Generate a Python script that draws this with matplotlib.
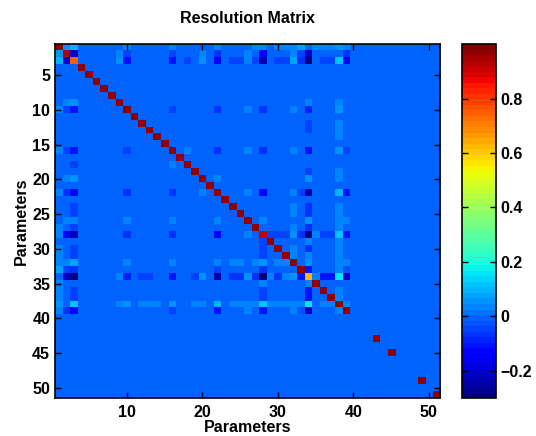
import numpy as np
import matplotlib
matplotlib.use("Agg")
import matplotlib.pyplot as plt

plt.rcParams['font.family'] = ['Liberation Sans', 'DejaVu Sans']
plt.rcParams['font.weight'] = 'bold'

n_par = 51

# diagonal of the resolution matrix (parameter index, value)
diag_idx = list(range(1, 40)) + [43, 45, 49, 51]
diag_val = [0.97, 0.93, 0.75] + [0.97] * 24 + [0.9] + [0.97] * 5 + [0.62] + [0.97] * 5 + [0.97] * 4

# off-diagonal entries (row, col, value), matrix is symmetric
off_rows = [1, 1, 1, 1, 1, 1, 1, 1, 1, 1, 1, 1, 1, 1, 1, 1,
            2, 2, 2, 2, 2, 2, 2, 2, 2, 2, 2, 2,
            3, 3, 3, 3, 3, 3, 3, 3, 3, 3, 3, 3, 3, 3, 3, 3, 3, 3, 3, 3,
            10, 10, 10, 10, 10, 10, 10,
            16, 16, 16, 16, 16, 16, 16, 16,
            22, 22, 22, 22, 22, 22, 22, 22,
            28, 28, 28, 28, 28, 28, 28, 28, 28, 28, 28, 28,
            34, 34, 34, 34, 34, 34, 34, 34, 34, 34, 34, 34, 34, 34, 34, 34, 34,
            38, 38, 38, 38, 38, 38, 38, 38, 38, 38, 38,
            9, 20, 20, 26, 26, 32, 32, 33, 33, 13, 12, 14, 19, 24, 25, 27, 29, 30, 31, 24, 25, 27, 29]
off_cols = [2, 3, 10, 16, 22, 27, 28, 30, 31, 32, 33, 35, 36, 37, 38, 39,
            3, 9, 10, 16, 20, 22, 26, 28, 32, 33, 34, 39,
            9, 10, 16, 18, 20, 22, 24, 25, 26, 27, 28, 30, 31, 32, 33, 34, 36, 37, 38, 39,
            16, 22, 26, 28, 32, 34, 38,
            22, 26, 28, 32, 34, 38, 39, 18,
            26, 28, 32, 33, 34, 38, 39, 20,
            29, 30, 31, 32, 33, 34, 35, 36, 37, 38, 39, 26,
            9, 19, 20, 24, 25, 26, 27, 29, 30, 31, 32, 33, 35, 36, 37, 38, 39,
            24, 25, 27, 30, 31, 36, 37, 39, 12, 13, 19,
            38, 34, 38, 38, 39, 38, 39, 38, 39, 34, 34, 38, 38, 32, 32, 32, 34, 32, 32, 38, 38, 38, 38]
off_vals = [0.05, 0.1, 0.03, 0.04, 0.04, 0.04, 0.03, 0.03, 0.03, 0.04, 0.08, 0.04, 0.03, 0.03, 0.05, 0.03,
            -0.2, 0.03, -0.05, -0.05, 0.03, -0.07, 0.03, -0.12, 0.03, -0.04, -0.2, -0.06,
            0.05, -0.1, -0.1, -0.04, 0.05, -0.15, -0.04, -0.04, 0.04, -0.05, -0.22, -0.05, -0.05, 0.08, -0.07, -0.28, -0.04, -0.04, 0.12, -0.13,
            -0.04, -0.06, 0.04, -0.06, 0.04, -0.08, 0.05,
            -0.06, 0.04, -0.07, 0.04, -0.1, 0.05, -0.05, 0.03,
            0.04, -0.15, 0.04, -0.05, -0.25, 0.1, -0.1, 0.04,
            -0.05, -0.05, -0.05, 0.06, -0.06, -0.28, 0.04, -0.05, -0.05, 0.12, -0.11, 0.04,
            0.04, -0.05, 0.05, -0.06, -0.06, 0.06, -0.06, -0.06, -0.06, 0.03, 0.06, -0.1, 0.04, -0.1, -0.1, 0.16, -0.2,
            0.04, 0.04, 0.04, 0.04, 0.04, 0.04, 0.04, 0.04, 0.04, 0.04, 0.04,
            0.03, 0.05, 0.04, 0.04, 0.04, 0.03, 0.03, 0.04, -0.03, -0.05, -0.05, 0.04, 0.04, 0.04, 0.04, 0.04, 0.04, 0.04, 0.04, 0.03, 0.03, 0.03, 0.03]

R = np.zeros((n_par, n_par))
for i, v in zip(diag_idx, diag_val):
    R[i - 1, i - 1] = v
for i, j, v in zip(off_rows, off_cols, off_vals):
    R[i - 1, j - 1] = v
    R[j - 1, i - 1] = v

fig = plt.figure(figsize=(5.36, 4.36), dpi=100)
ax = fig.add_axes([0.1026, 0.087, 0.7184, 0.812])
cmap = plt.get_cmap('jet', 64)
im = ax.imshow(R, cmap=cmap, vmin=-0.3, vmax=1.0, aspect='auto', interpolation='nearest',
               extent=[0.5, n_par + 0.5, n_par + 0.5, 0.5])

ax.set_xticks([10, 20, 30, 40, 50])
ax.set_yticks(list(range(5, 51, 5)))
ax.tick_params(direction='in', top=True, right=True, labelsize=11.5, length=4, width=1)
ax.tick_params(axis='x', pad=5)
for s in ax.spines.values():
    s.set_linewidth(1.2)
ax.set_title('Resolution Matrix', fontsize=11.5, fontweight='bold', pad=15)
ax.set_xlabel('Parameters', fontsize=11.5, fontweight='bold', labelpad=0)
ax.set_ylabel('Parameters', fontsize=11.5, fontweight='bold', labelpad=2)

cax = fig.add_axes([0.862, 0.087, 0.063, 0.812])
cb = fig.colorbar(im, cax=cax, ticks=[-0.2, 0, 0.2, 0.4, 0.6, 0.8])
cb.ax.set_yticklabels(['\u22120.2', '0', '0.2', '0.4', '0.6', '0.8'])
cax.tick_params(direction='in', left=True, right=True, labelsize=11.5, length=4, width=1)
cb.outline.set_linewidth(1.2)

fig.savefig('out.png', dpi=100)
